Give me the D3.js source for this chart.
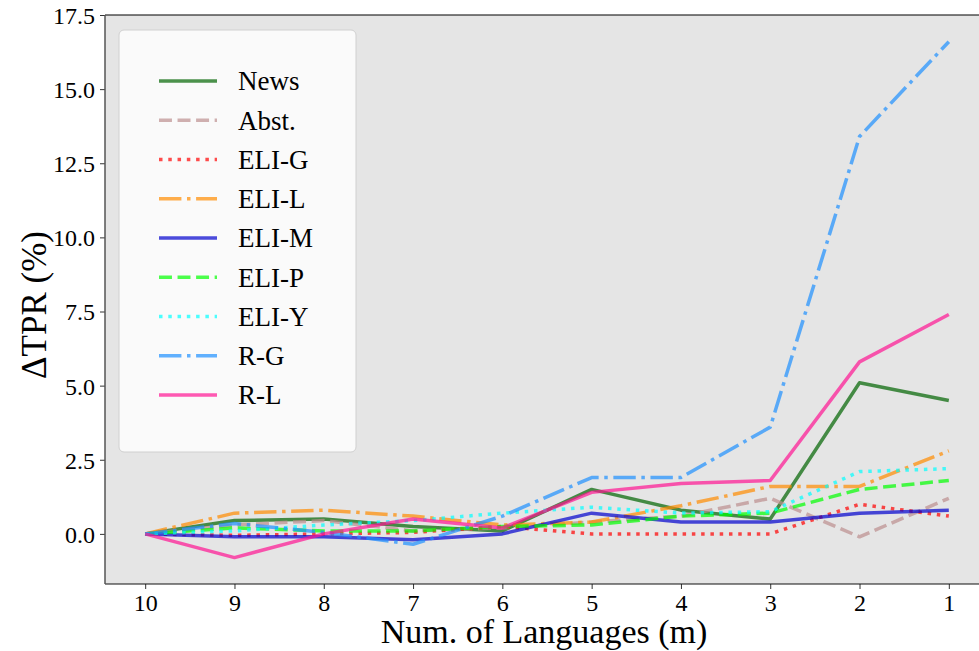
<!DOCTYPE html>
<html>
<head>
<meta charset="utf-8">
<script src="https://cdn.jsdelivr.net/npm/d3@7"></script>
<style>
  body { margin: 0; background: #fff; }
  text { font-family: "Liberation Serif", "DejaVu Serif", serif; fill: #000; }
</style>
</head>
<body>
<div id="chart"></div>
<script>
// values
const languages = [10, 9, 8, 7, 6, 5, 4, 3, 2, 1];
const news = [0, 0.45, 0.5, 0.25, 0.1, 1.5, 0.8, 0.5, 5.1, 4.5];
const abst = [0, 0.3, 0.45, 0.1, 0.2, 0.4, 0.6, 1.2, -0.1, 1.2];
const eliG = [0, -0.05, 0, 0.05, 0.25, 0, 0, 0, 1.0, 0.6];
const eliL = [0, 0.7, 0.8, 0.6, 0.3, 0.4, 0.95, 1.6, 1.6, 2.8];
const eliM = [0, -0.1, -0.1, -0.2, 0, 0.7, 0.4, 0.4, 0.7, 0.8];
const eliP = [0, 0.2, 0.1, 0.1, 0.25, 0.3, 0.6, 0.7, 1.5, 1.8];
const eliY = [0, 0.1, 0.3, 0.45, 0.7, 0.9, 0.7, 0.75, 2.1, 2.2];
const rG = [0, 0.35, 0.05, -0.35, 0.6, 1.9, 1.9, 3.6, 13.4, 16.6];
const rL = [0, -0.8, 0, 0.5, 0.2, 1.4, 1.7, 1.8, 5.8, 7.4];
const yTicks = [0, 2.5, 5, 7.5, 10, 12.5, 15, 17.5];

const lw = 3.5;
const dashed = [3.7 * lw, 1.6 * lw].join(",");
const dotted = [1 * lw, 1.65 * lw].join(",");
const dashdot = [6.4 * lw, 1.6 * lw, 1 * lw, 1.6 * lw].join(",");

const series = [
  {name: "News", values: news, color: "#006400", dash: null},
  {name: "Abst.", values: abst, color: "#bc8f8f", dash: dashed},
  {name: "ELI-G", values: eliG, color: "#ff0000", dash: dotted},
  {name: "ELI-L", values: eliL, color: "#ff8c00", dash: dashdot},
  {name: "ELI-M", values: eliM, color: "#0000cd", dash: null},
  {name: "ELI-P", values: eliP, color: "#00ff00", dash: dashed},
  {name: "ELI-Y", values: eliY, color: "#00ffff", dash: dotted},
  {name: "R-G", values: rG, color: "#1e90ff", dash: dashdot},
  {name: "R-L", values: rL, color: "#ff1493", dash: null}
];

const width = 979, height = 651;
const plot = {left: 105, right: 989, top: 15, bottom: 584};

const svg = d3.select("#chart").append("svg")
  .attr("width", width)
  .attr("height", height);

const x = d3.scaleLinear().domain([10.45, 0.55]).range([plot.left, plot.right]);
const y = d3.scaleLinear().domain([-1.69, 17.5]).range([plot.bottom, plot.top]);

svg.append("rect")
  .attr("x", plot.left).attr("y", plot.top)
  .attr("width", plot.right - plot.left).attr("height", plot.bottom - plot.top)
  .attr("fill", "#e5e5e5");

svg.append("clipPath").attr("id", "clip")
  .append("rect")
  .attr("x", plot.left).attr("y", plot.top)
  .attr("width", plot.right - plot.left).attr("height", plot.bottom - plot.top);

const line = d3.line()
  .x((d, i) => x(languages[i]))
  .y(d => y(d));

svg.append("g").attr("clip-path", "url(#clip)")
  .selectAll("path")
  .data(series)
  .enter().append("path")
  .attr("d", d => line(d.values))
  .attr("fill", "none")
  .attr("stroke", d => d.color)
  .attr("stroke-opacity", 0.7)
  .attr("stroke-width", lw)
  .attr("stroke-linejoin", "round")
  .attr("stroke-dasharray", d => d.dash);

// axes
const xAxis = svg.append("g")
  .attr("transform", "translate(0," + plot.bottom + ")")
  .call(d3.axisBottom(x).tickValues(languages).tickFormat(d3.format("d")).tickSizeOuter(0).tickSize(5).tickPadding(5));
xAxis.selectAll("text").attr("font-size", 24).attr("font-family", "Liberation Serif");

const yAxis = svg.append("g")
  .attr("transform", "translate(" + plot.left + ",0)")
  .call(d3.axisLeft(y).tickValues(yTicks).tickFormat(d3.format(".1f")).tickSizeOuter(0).tickSize(5).tickPadding(5));
yAxis.selectAll("text").attr("font-size", 24).attr("font-family", "Liberation Serif").attr("dy", "0.35em");

svg.selectAll(".domain").remove();
svg.selectAll(".tick line").attr("stroke", "#333").attr("stroke-width", 1);

// frame
svg.append("line").attr("x1", plot.left).attr("x2", plot.right).attr("y1", plot.top).attr("y2", plot.top)
  .attr("stroke", "#000").attr("stroke-width", 1.2);
svg.append("line").attr("x1", plot.left).attr("x2", plot.right).attr("y1", plot.bottom).attr("y2", plot.bottom)
  .attr("stroke", "#111").attr("stroke-width", 1.2);
svg.append("line").attr("x1", plot.left).attr("x2", plot.left).attr("y1", plot.top).attr("y2", plot.bottom)
  .attr("stroke", "#555").attr("stroke-width", 1.5);

// axis labels
svg.append("text")
  .attr("x", (plot.left + 989) / 2 - 3).attr("y", 643)
  .attr("text-anchor", "middle")
  .attr("font-size", 34)
  .text("Num. of Languages (m)");

svg.append("text")
  .attr("transform", "translate(46," + 305 + ") rotate(-90)")
  .attr("text-anchor", "middle")
  .attr("font-size", 35)
  .text("\u0394TPR (%)");

// legend
const legend = svg.append("g");
legend.append("rect")
  .attr("x", 119).attr("y", 30)
  .attr("width", 237).attr("height", 422)
  .attr("rx", 5)
  .attr("fill", "#fafafa")
  .attr("stroke", "#d0d0d0");

const rowY = d3.scaleLinear().domain([0, series.length - 1]).range([81, 395]);

const item = legend.selectAll(".item")
  .data(series)
  .enter().append("g")
  .attr("class", "item")
  .attr("transform", (d, i) => "translate(0," + rowY(i) + ")");

item.append("line")
  .attr("x1", 159).attr("x2", 217)
  .attr("stroke", d => d.color)
  .attr("stroke-opacity", 0.7)
  .attr("stroke-width", lw)
  .attr("stroke-dasharray", d => d.dash);

item.append("text")
  .attr("x", 238).attr("dy", "0.35em")
  .attr("font-size", 27)
  .text(d => d.name);
</script>
</body>
</html>
